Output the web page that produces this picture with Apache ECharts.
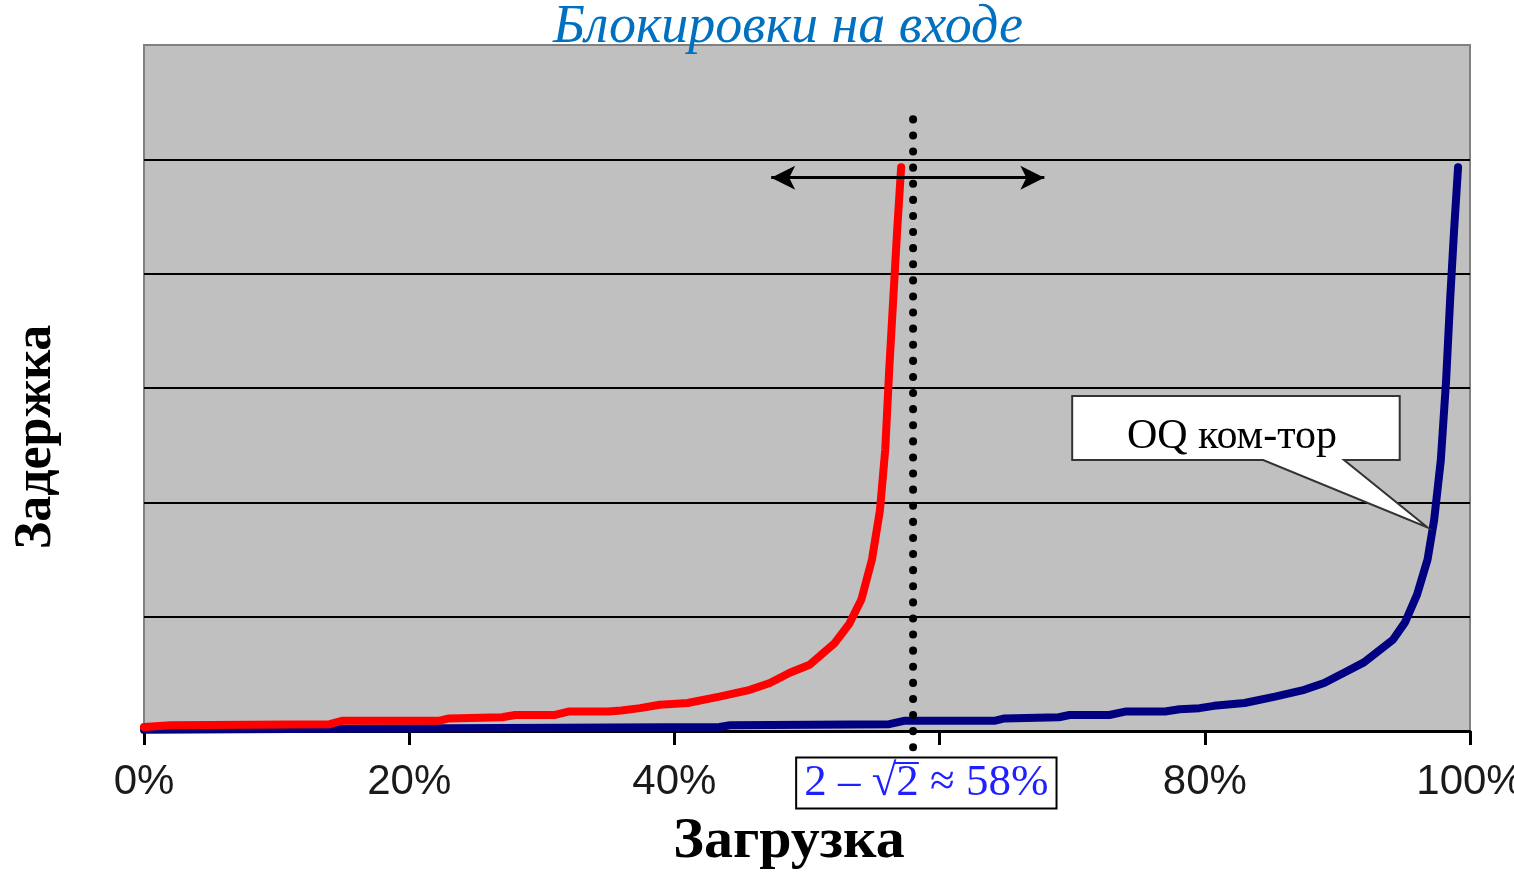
<!DOCTYPE html>
<html>
<head>
<meta charset="utf-8">
<script src="https://cdn.jsdelivr.net/npm/echarts@6/dist/echarts.min.js"></script>
<style>
  html, body { margin: 0; padding: 0; background: #fff; overflow: hidden; }
  #chart { width: 1514px; height: 872px; }
</style>
</head>
<body>
<div id="chart"></div>
<script>
// загрузка, %
const redLoad = [0, 2, 14, 15, 22.3, 23, 27, 28, 31, 32, 35, 36, 37.4, 38.9, 41, 43.4, 45.7, 47.2, 48.7, 50.2, 52.1, 53.2, 54.1, 54.9, 55.5, 55.9, 56.2, 56.5, 56.8, 57.1];
const redDelay = [0.035, 0.05, 0.06, 0.09, 0.09, 0.11, 0.12, 0.14, 0.14, 0.17, 0.17, 0.18, 0.2, 0.23, 0.245, 0.3, 0.36, 0.42, 0.51, 0.58, 0.77, 0.94, 1.15, 1.5, 1.93, 2.46, 3.16, 3.77, 4.38, 4.93];

const blueLoad = [0, 14.8, 43.4, 44.2, 56.2, 57.4, 64.2, 64.9, 69, 69.8, 72.8, 74, 77, 78.1, 79.6, 80.7, 83, 85.3, 87.5, 89, 90.5, 92, 94.2, 95.1, 96, 96.8, 97.3, 97.8, 98.2, 98.5, 98.8, 99.1];
const blueDelay = [0.01, 0.02, 0.035, 0.05, 0.06, 0.09, 0.09, 0.11, 0.12, 0.14, 0.14, 0.17, 0.17, 0.19, 0.2, 0.22, 0.245, 0.3, 0.36, 0.42, 0.51, 0.6, 0.8, 0.95, 1.19, 1.5, 1.85, 2.37, 3.07, 3.77, 4.38, 4.93];

const threshold = 58;               // 2 - sqrt(2)
const thresholdSpan = [5.35, -0.15];
const arrowSpan = [47.3, 67.9, 4.84];
// выноска "OQ ком-тор": [x1, x2, yTop, yBottom], хвост: основание слева, кончик, основание справа
const calloutBox = [70, 94.7, 2.93, 2.37];
const calloutTail = [[84.4, 2.37], [96.8, 1.78], [90.5, 2.37]];

const chart = echarts.init(document.getElementById('chart'));

const zip = (xs, ys) => xs.map((x, i) => [x, ys[i]]);

const option = {
  animation: false,
  grid: {
    left: 144, right: 44, top: 45, bottom: 141,
    outerBoundsMode: 'none',
    show: true,
    backgroundColor: '#c0c0c0',
    borderColor: '#808080',
    borderWidth: 2
  },
  xAxis: {
    type: 'value',
    min: 0, max: 100, interval: 20,
    axisLine: { show: true, onZero: false, lineStyle: { color: '#000', width: 3 } },
    axisTick: { show: true, length: 14, lineStyle: { color: '#000', width: 3 } },
    axisLabel: {
      margin: 30,
      fontFamily: 'Liberation Sans',
      fontSize: 42,
      color: '#1a1a1a',
      formatter: v => (v === 60 ? '' : v + '%')
    },
    splitLine: { show: false }
  },
  yAxis: {
    type: 'value',
    min: 0, max: 6, interval: 1,
    axisLine: { show: false },
    axisTick: { show: false },
    axisLabel: { show: false },
    splitLine: {
      show: true,
      lineStyle: { color: ['#000', '#000', '#000', '#000', '#000', '#000', '#808080'], width: 2 }
    }
  },
  series: [
    {
      name: 'OQ',
      type: 'line',
      data: zip(blueLoad, blueDelay),
      showSymbol: false,
      lineStyle: { color: '#000080', width: 8, cap: 'round', join: 'round' }
    },
    {
      name: 'IQ',
      type: 'line',
      data: zip(redLoad, redDelay),
      showSymbol: false,
      lineStyle: { color: '#ff0000', width: 8, cap: 'round', join: 'round' }
    },
    {
      name: 'threshold',
      type: 'line',
      clip: false,
      data: [[threshold, thresholdSpan[0]], [threshold, thresholdSpan[1]]],
      showSymbol: false,
      lineStyle: { color: '#000', width: 8, type: [0.1, 16], cap: 'round' },
      markLine: {
        silent: true,
        symbol: ['arrow', 'arrow'],
        symbolSize: [18, 24],
        label: { show: false },
        lineStyle: { color: '#000', width: 3, type: 'solid' },
        data: [[{ coord: [arrowSpan[0], arrowSpan[2]] }, { coord: [arrowSpan[1], arrowSpan[2]] }]]
      }
    }
  ]
};

chart.setOption(option);

// подписи и выноски, привязанные к осям
const px = p => chart.convertToPixel({ gridIndex: 0 }, p);
const tl = px([calloutBox[0], calloutBox[2]]);
const br = px([calloutBox[1], calloutBox[3]]);
const tail = calloutTail.map(px);
const boxX = px([59, 0])[0];

// черта над корнем: меряем текст
const boxFont = '45px "Liberation Serif"';
const ctx = document.createElement('canvas').getContext('2d');
ctx.font = boxFont;
const boxText = '2 – √2 ≈ 58%';
const full = ctx.measureText(boxText).width;
const pre = ctx.measureText('2 – √').width;
const two = ctx.measureText('2').width;
const textLeft = boxX - full / 2;
const barY = 782 - 19;

chart.setOption({
  graphic: [
    { type: 'rect', shape: { x: 505, y: 0, width: 563, height: 43 }, style: { fill: '#fff' }, z: 10 },
    {
      type: 'text', x: 788, y: 28, z: 11,
      style: {
        text: 'Блокировки на входе',
        font: 'italic 54px "Liberation Serif"',
        fill: '#0070c0', align: 'center', verticalAlign: 'middle'
      }
    },
    {
      type: 'text', x: 37, y: 437, rotation: Math.PI / 2, z: 11,
      style: {
        text: 'Задержка',
        font: 'bold 52px "Liberation Serif"',
        fill: '#000', align: 'center', verticalAlign: 'middle'
      }
    },
    {
      type: 'text', x: 789, y: 842, z: 11,
      style: {
        text: 'Загрузка',
        font: 'bold 58px "Liberation Serif"',
        fill: '#000', align: 'center', verticalAlign: 'middle'
      }
    },
    {
      type: 'text', x: boxX, y: 783, z: 11,
      style: {
        text: boxText,
        font: boxFont,
        fill: '#1f1fff', align: 'center', verticalAlign: 'middle',
        backgroundColor: '#fff', borderColor: '#000', borderWidth: 2,
        padding: [3, 7, 1, 7]
      }
    },
    {
      type: 'line', z: 12,
      shape: { x1: textLeft + pre - 2, y1: barY, x2: textLeft + pre + two, y2: barY },
      style: { stroke: '#1f1fff', lineWidth: 2 }
    },
    {
      type: 'polygon', z: 11,
      shape: {
        points: [
          [tl[0], tl[1]], [br[0], tl[1]], [br[0], br[1]],
          tail[2], tail[1], tail[0], [tl[0], br[1]]
        ]
      },
      style: { fill: '#fff', stroke: '#333', lineWidth: 2 }
    },
    {
      type: 'text', x: (tl[0] + br[0]) / 2 - 4, y: (tl[1] + br[1]) / 2 + 9, z: 12,
      style: {
        text: 'OQ ком-тор',
        font: '42px "Liberation Serif"',
        fill: '#000', align: 'center', verticalAlign: 'middle'
      }
    }
  ]
});

window.addEventListener('resize', () => chart.resize());
</script>
</body>
</html>
